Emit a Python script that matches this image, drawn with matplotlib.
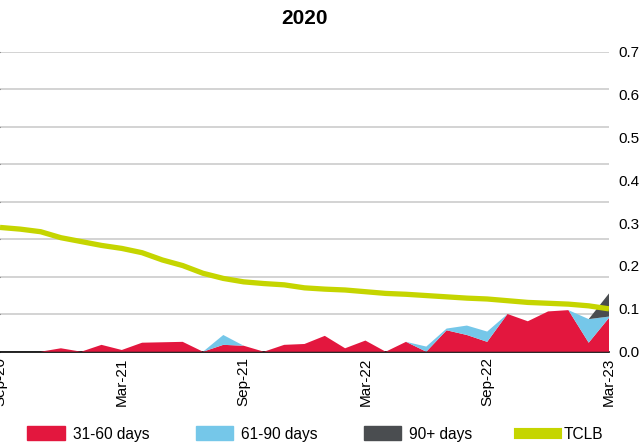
import matplotlib
matplotlib.use("Agg")
import matplotlib.pyplot as plt
from matplotlib.patches import Patch
from matplotlib.lines import Line2D
import numpy as np

plt.rcParams['font.family'] = ['Liberation Sans', 'DejaVu Sans']

# monthly points, Sep-20 .. Mar-23
months = ["Sep-20", "Oct-20", "Nov-20", "Dec-20", "Jan-21", "Feb-21", "Mar-21",
          "Apr-21", "May-21", "Jun-21", "Jul-21", "Aug-21", "Sep-21", "Oct-21",
          "Nov-21", "Dec-21", "Jan-22", "Feb-22", "Mar-22", "Apr-22", "May-22",
          "Jun-22", "Jul-22", "Aug-22", "Sep-22", "Oct-22", "Nov-22", "Dec-22",
          "Jan-23", "Feb-23", "Mar-23"]
tick_labels = ["Sep-20", "Mar-21", "Sep-21", "Mar-22", "Sep-22", "Mar-23"]

days_31_60 = [0, 0, 0, 0.008, 0.0, 0.016, 0.004, 0.021, 0.022, 0.023, 0.0,
              0.016, 0.014, 0.0, 0.016, 0.018, 0.037, 0.008, 0.026, 0.0, 0.023,
              0.0, 0.050, 0.039, 0.023, 0.088, 0.071, 0.094, 0.097, 0.021, 0.079]
days_61_90 = [0, 0, 0, 0, 0, 0, 0, 0, 0, 0, 0,
              0.023, 0, 0, 0, 0, 0, 0, 0, 0, 0,
              0.012, 0.004, 0.022, 0.024, 0, 0, 0, 0, 0.055, 0.003]
days_90_plus = [0] * 30 + [0.054]
tclb = [0.290, 0.286, 0.280, 0.266, 0.257, 0.248, 0.241, 0.231, 0.214, 0.201,
        0.183, 0.171, 0.163, 0.159, 0.156, 0.149, 0.146, 0.144, 0.140, 0.136,
        0.134, 0.131, 0.128, 0.125, 0.123, 0.119, 0.115, 0.113, 0.111, 0.107,
        0.100]

red = "#e3173e"
blue = "#75c7e9"
grey = "#4a4d50"
green = "#c5d500"

fig = plt.figure(figsize=(6.42, 4.47), dpi=100)
ax1 = fig.add_axes([0.0, 0.2132, 609 / 642, 0.6711])
x = np.arange(len(months))

# left axis only carries the grid (its labels are cropped away in the original)
ax1.set_ylim(0, 8)
ax1.set_yticks(range(0, 9))
ax1.grid(axis="y", color="#d0d0d0", linewidth=1.3)
ax1.set_axisbelow(True)
ax1.tick_params(axis="y", length=3, color="#555555", labelleft=False)
for s in ["top", "right", "left"]:
    ax1.spines[s].set_visible(False)
ax1.spines["bottom"].set_color("black")
ax1.spines["bottom"].set_linewidth(1.2)
ax1.set_xlim(0, len(months) - 1)
ax1.set_xticks(x[::6])
ax1.set_xticklabels(tick_labels, rotation=90, fontsize=11)
ax1.tick_params(axis="x", length=0, pad=4)

ax2 = ax1.twinx()
ax2.stackplot(x, days_31_60, days_61_90, days_90_plus,
              colors=[red, blue, grey], linewidth=0)
ax2.plot(x, tclb, color=green, linewidth=3.8, solid_capstyle="butt")
ax2.set_ylim(0, 0.7)
ax2.set_yticks(np.arange(0, 0.71, 0.1))
ax2.set_yticklabels(["%.1f" % v for v in np.arange(0, 0.71, 0.1)], fontsize=11)
ax2.tick_params(axis="y", length=0, pad=7)
for s in ax2.spines.values():
    s.set_visible(False)
ax2.set_xlim(0, len(months) - 1)

ax1.set_title("2020", fontsize=15, fontweight="bold", pad=20)

handles = [Patch(color=red), Patch(color=blue), Patch(color=grey),
           Line2D([0], [0], color=green, linewidth=8)]
fig.legend(handles, ["31-60 days", "61-90 days", "90+ days", "TCLB"],
           loc="center", bbox_to_anchor=(0.4915, 0.029), ncol=4, frameon=False,
           fontsize=11.2, handlelength=2.4, handleheight=1.0,
           handletextpad=0.5, columnspacing=3.0)

fig.savefig("out.png", dpi=100)
